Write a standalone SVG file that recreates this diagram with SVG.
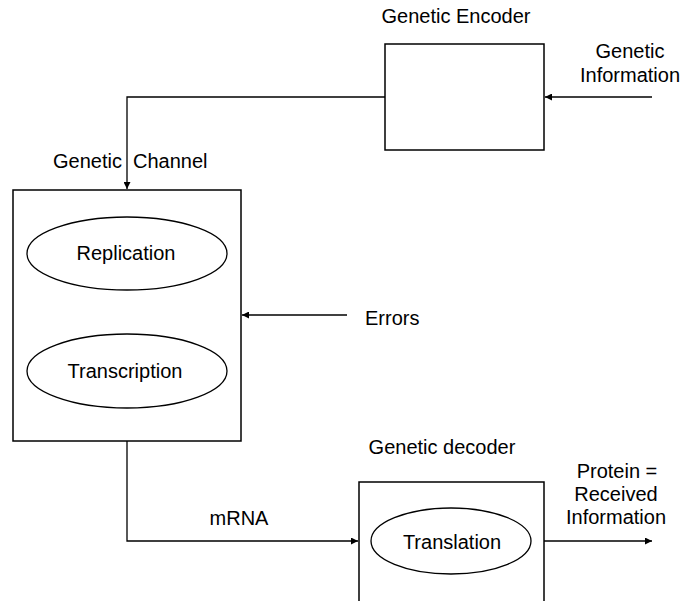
<svg xmlns="http://www.w3.org/2000/svg" width="682" height="601" viewBox="0 0 682 601">
<defs>
<style>
.box{fill:#fff;stroke:#000;stroke-width:1.5}
.ell{fill:#fff;stroke:#000;stroke-width:1.3}
.t{font-family:"Liberation Sans",Arial,sans-serif;font-size:20px;fill:#000}
.c{fill:none;stroke:#000;stroke-width:1.3}
</style>
<marker id="ah" viewBox="0 0 10 10" refX="10" refY="5" markerWidth="9" markerHeight="7" markerUnits="userSpaceOnUse" orient="auto">
<path d="M0,0 L10,5 L0,10 z" fill="#000"/>
</marker>
</defs>
<rect width="682" height="601" fill="#fff"/>
<g id="encoder">
<rect class="box" x="385" y="44" width="159" height="106"/>
<text class="t" x="456" y="23" text-anchor="middle">Genetic Encoder</text>
</g>
<g id="genetic-information">
<text class="t" x="630" y="58" text-anchor="middle">Genetic</text>
<text class="t" x="630" y="82" text-anchor="middle">Information</text>
</g>
<g id="channel">
<rect class="box" x="13" y="190" width="228" height="251"/>
<text class="t" x="53" y="168">Genetic<tspan x="133">Channel</tspan></text>
</g>
<g id="replication">
<ellipse class="ell" cx="127" cy="253.5" rx="100" ry="36.5"/>
<text class="t" x="126" y="260" text-anchor="middle">Replication</text>
</g>
<g id="transcription">
<ellipse class="ell" cx="127" cy="371" rx="100" ry="37"/>
<text class="t" x="125" y="378" text-anchor="middle">Transcription</text>
</g>
<g id="errors">
<text class="t" x="365" y="325">Errors</text>
</g>
<g id="decoder">
<rect class="box" x="359" y="482" width="185" height="130"/>
<text class="t" x="442" y="454" text-anchor="middle">Genetic decoder</text>
</g>
<g id="translation">
<ellipse class="ell" cx="451" cy="541" rx="80" ry="33"/>
<text class="t" x="452" y="549" text-anchor="middle">Translation</text>
</g>
<g id="output">
<text class="t" x="617" y="478" text-anchor="middle">Protein =</text>
<text class="t" x="616" y="501" text-anchor="middle">Received</text>
<text class="t" x="616" y="524" text-anchor="middle">Information</text>
</g>
<g id="mrna-label">
<text class="t" x="239" y="525" text-anchor="middle">mRNA</text>
</g>
<g id="connectors">
<path class="c" d="M652,97 L545,97" marker-end="url(#ah)"/>
<path class="c" d="M385,97 L127,97 L127,189" marker-end="url(#ah)"/>
<path class="c" d="M347,315 L242,315" marker-end="url(#ah)"/>
<path class="c" d="M127,441 L127,541 L358,541" marker-end="url(#ah)"/>
<path class="c" d="M544,541 L652,541" marker-end="url(#ah)"/>
</g>
</svg>
